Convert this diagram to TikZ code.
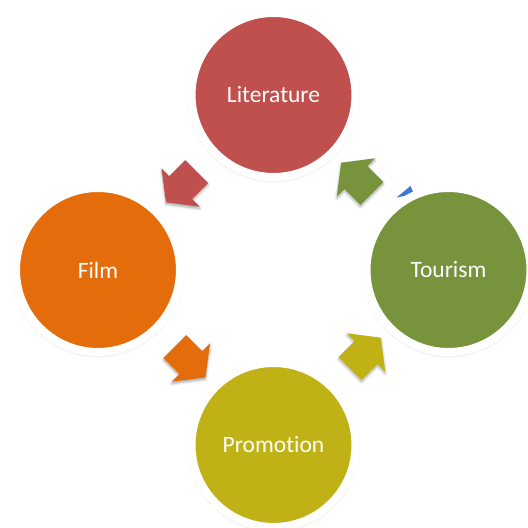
\documentclass[tikz,border=0pt]{standalone}
\usepackage{fontspec}
\setmainfont{Carlito}[Ligatures=NoCommon]
\usetikzlibrary{calc,shapes.arrows,shadows.blur}
\definecolor{litred}{RGB}{192,80,77}
\definecolor{filmorange}{RGB}{228,108,10}
\definecolor{promoyellow}{RGB}{192,178,22}
\definecolor{tourgreen}{RGB}{119,147,60}
\definecolor{sliverblue}{RGB}{60,120,216}

\begin{document}
\begin{tikzpicture}
          [x=1pt,y=1pt,
            stage/.style={circle,draw=white,line width=8pt,minimum size=164pt,inner sep=0pt,
              text=white,font=\fontsize{23.5}{28}\selectfont,
              blur shadow={shadow xshift=0pt,shadow yshift=-1.5pt,shadow blur radius=4.5pt,shadow opacity=35}},
            turn/.style={single arrow,draw=none,inner sep=0pt,text height=16pt,text depth=16pt,
              minimum height=43.5pt,single arrow head extend=11pt,single arrow tip angle=105,
              blur shadow={shadow xshift=0pt,shadow yshift=-2pt,shadow blur radius=2.5pt,shadow opacity=35}},
          ]

          \useasboundingbox (0,0) rectangle (528,528);

          % blue sliver, half hidden under the Tourism ring
          \fill[sliverblue] (410.5,342) -- (396.5,330.5) -- (414,334) -- cycle;

          \node[stage,fill=litred] (lit) at (273.5,433) {Literature};
          \node[stage,fill=filmorange] (film) at (98,258) {Film};
          \node[stage,fill=tourgreen] (tour) at (448.5,258) {Tourism};
          \node[stage,fill=promoyellow] (promo) at (273.5,83) {Promotion};

          \node[turn,fill=litred,rotate=225] (litfilm) at ($(lit)!0.5!(film)$) {};
          \node[turn,fill=filmorange,rotate=-45] (filmpromo) at ($(film)!0.5!(promo)$) {};
          \node[turn,fill=promoyellow,rotate=45] (promotour) at ($(promo)!0.5!(tour)$) {};
          \node[turn,fill=tourgreen,rotate=135] (tourlit) at ($(tour)!0.5!(lit)$) {};
        \end{tikzpicture}
\end{document}
